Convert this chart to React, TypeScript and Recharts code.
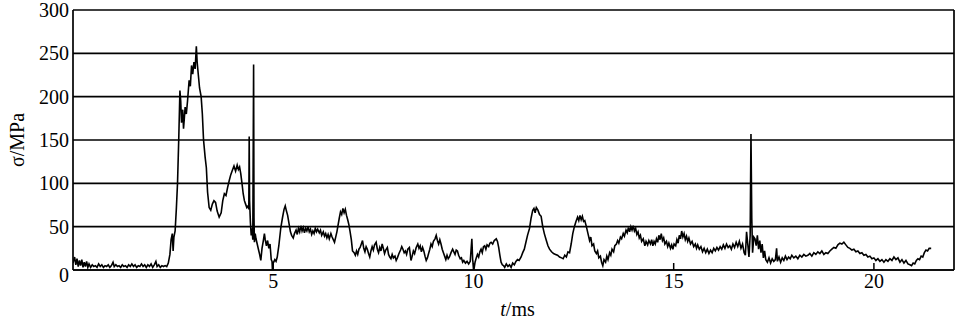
import { LineChart, Line, XAxis, YAxis, CartesianGrid, ReferenceLine, Label } from 'recharts';

// Stress trace sigma (MPa) vs time t (ms) as [t, sigma] pairs

const BASELINE: [number, number][] = [
  [0.0, 8], [0.04, 15], [0.07, 6], [0.1, 13], [0.13, 4], [0.16, 11], [0.19, 5], [0.22, 12],
  [0.25, 3], [0.28, 9], [0.31, 4], [0.34, 10], [0.37, 3], [0.4, 7], [0.44, 3], [0.48, 6],
  [0.52, 4], [0.56, 5], [0.6, 3], [0.64, 7], [0.68, 4], [0.72, 6], [0.76, 3], [0.8, 5],
  [0.84, 4], [0.88, 6], [0.92, 3], [0.96, 5], [1.0, 9], [1.03, 4], [1.07, 6], [1.11, 4],
  [1.15, 5], [1.19, 3], [1.23, 6], [1.27, 4], [1.31, 5], [1.35, 3], [1.39, 6], [1.43, 4],
  [1.47, 7], [1.51, 4], [1.55, 6], [1.59, 3], [1.63, 5], [1.67, 4], [1.71, 7], [1.75, 4],
  [1.79, 6], [1.83, 3], [1.87, 6], [1.91, 4], [1.95, 7], [1.99, 3], [2.03, 6], [2.07, 10],
  [2.1, 4], [2.14, 6], [2.18, 3], [2.22, 5], [2.26, 4], [2.3, 5], [2.34, 4],
];

const MAIN_PULSE: [number, number][] = [
  [2.38, 8], [2.42, 18], [2.45, 35], [2.48, 42], [2.5, 22], [2.52, 38], [2.55, 45], [2.58, 70],
  [2.61, 100], [2.64, 150], [2.67, 207], [2.69, 195], [2.71, 170], [2.74, 185], [2.76, 163],
  [2.78, 175], [2.8, 188], [2.83, 180], [2.86, 195], [2.9, 219], [2.93, 212], [2.96, 236],
  [2.99, 226], [3.02, 240], [3.05, 232], [3.08, 258], [3.1, 240], [3.13, 225], [3.16, 210],
  [3.2, 200], [3.23, 180], [3.26, 150], [3.3, 130], [3.33, 118], [3.36, 90], [3.4, 72],
  [3.44, 69], [3.48, 76], [3.52, 80], [3.56, 78], [3.6, 68], [3.65, 61], [3.7, 66], [3.74, 80],
  [3.78, 88], [3.82, 86], [3.86, 95], [3.9, 103], [3.94, 110], [3.98, 115], [4.02, 120],
  [4.06, 114], [4.1, 121], [4.13, 116], [4.16, 119], [4.19, 111], [4.22, 100], [4.25, 88],
  [4.28, 80], [4.31, 76], [4.34, 72], [4.37, 74], [4.39, 70], [4.4, 154], [4.41, 80],
  [4.43, 55], [4.45, 40], [4.47, 48], [4.49, 35], [4.51, 237], [4.52, 60], [4.53, 32],
  [4.55, 42], [4.57, 36], [4.6, 30], [4.63, 24], [4.66, 18], [4.69, 11], [4.72, 25], [4.75, 33],
  [4.78, 42], [4.8, 35], [4.83, 28], [4.86, 34], [4.89, 25], [4.92, 30], [4.95, 12], [4.97, 10],
  [4.98, 0], [5.0, 8], [5.04, 12],
];

const MID_SECTION: [number, number][] = [
  [5.07, 10], [5.1, 15], [5.14, 28], [5.19, 49], [5.23, 60], [5.27, 70], [5.3, 74], [5.33, 68],
  [5.36, 63], [5.4, 52], [5.43, 44], [5.46, 40], [5.5, 37], [5.53, 42], [5.57, 46], [5.6, 41],
  [5.63, 48], [5.66, 44], [5.69, 51], [5.72, 45], [5.75, 49], [5.78, 43], [5.81, 48], [5.84, 45],
  [5.87, 50], [5.9, 44], [5.93, 47], [5.96, 41], [5.99, 45], [6.02, 42], [6.05, 48], [6.08, 44],
  [6.11, 47], [6.15, 43], [6.18, 46], [6.21, 40], [6.25, 44], [6.28, 39], [6.31, 42], [6.34, 37],
  [6.37, 41], [6.4, 36], [6.44, 42], [6.47, 38], [6.5, 35], [6.53, 32], [6.56, 38], [6.59, 44],
  [6.62, 52], [6.65, 60], [6.68, 67], [6.71, 64], [6.74, 71], [6.77, 66], [6.8, 70], [6.83, 63],
  [6.86, 58], [6.89, 52], [6.92, 44], [6.95, 35], [6.98, 22], [7.02, 20], [7.05, 17], [7.08, 22],
  [7.11, 18], [7.14, 24], [7.17, 26], [7.2, 30], [7.23, 34], [7.26, 25], [7.29, 21], [7.32, 27],
  [7.35, 24], [7.38, 19], [7.41, 15], [7.44, 22], [7.47, 27], [7.5, 23], [7.53, 29], [7.57, 32],
  [7.6, 24], [7.63, 20], [7.66, 26], [7.69, 22], [7.72, 30], [7.75, 25], [7.78, 19], [7.81, 23],
  [7.85, 26], [7.88, 18], [7.91, 15], [7.94, 13], [7.97, 18], [8.0, 14], [8.04, 16], [8.07, 11],
];

const LOW_SECTION: [number, number][] = [
  [8.1, 14], [8.14, 19], [8.18, 23], [8.21, 27], [8.24, 24], [8.27, 20], [8.3, 22], [8.33, 18],
  [8.36, 24], [8.4, 26], [8.44, 11], [8.47, 16], [8.5, 22], [8.53, 19], [8.57, 26], [8.61, 30],
  [8.64, 25], [8.67, 28], [8.7, 21], [8.73, 26], [8.76, 22], [8.79, 16], [8.82, 11], [8.85, 14],
  [8.88, 19], [8.91, 24], [8.94, 30], [8.97, 27], [9.0, 33], [9.04, 36], [9.07, 40], [9.1, 34],
  [9.13, 30], [9.16, 35], [9.19, 30], [9.22, 24], [9.25, 20], [9.28, 16], [9.31, 12], [9.34, 17],
  [9.37, 13], [9.4, 15], [9.44, 20], [9.48, 24], [9.51, 21], [9.54, 18], [9.57, 23], [9.6, 22],
  [9.63, 17], [9.67, 13], [9.7, 14], [9.73, 9], [9.76, 11], [9.8, 8], [9.84, 10], [9.88, 7],
  [9.92, 10], [9.96, 36], [9.98, 12], [10.01, 0], [10.04, 9], [10.07, 14], [10.1, 18], [10.13, 15],
  [10.16, 21], [10.19, 24], [10.22, 20], [10.25, 27], [10.28, 28], [10.31, 24], [10.34, 29],
  [10.38, 27], [10.41, 31], [10.44, 32], [10.48, 30], [10.52, 34], [10.57, 36], [10.6, 33],
  [10.63, 26], [10.66, 17], [10.69, 9], [10.72, 6], [10.75, 5], [10.78, 3], [10.82, 7], [10.86, 4],
  [10.9, 6], [10.94, 3], [10.98, 8], [11.02, 6], [11.06, 10], [11.1, 12], [11.14, 11], [11.19, 15],
];

const HUMPS: [number, number][] = [
  [11.23, 20], [11.27, 24], [11.31, 32], [11.35, 40], [11.4, 48], [11.44, 60], [11.48, 69],
  [11.51, 71], [11.54, 66], [11.57, 72], [11.61, 69], [11.65, 64], [11.69, 62], [11.73, 50],
  [11.77, 42], [11.82, 34], [11.86, 28], [11.9, 24], [11.95, 21], [12.0, 19], [12.05, 18],
  [12.1, 17], [12.15, 15], [12.2, 14], [12.24, 13], [12.28, 17], [12.32, 15], [12.36, 21],
  [12.4, 20], [12.44, 30], [12.48, 42], [12.52, 50], [12.56, 56], [12.6, 61], [12.63, 57],
  [12.66, 63], [12.69, 58], [12.72, 62], [12.75, 56], [12.78, 57], [12.82, 50], [12.86, 42],
  [12.9, 34], [12.93, 38], [12.96, 28], [13.0, 30], [13.03, 22], [13.07, 19], [13.1, 22],
  [13.13, 14], [13.17, 16], [13.2, 9], [13.23, 5], [13.26, 12], [13.3, 9], [13.33, 16],
  [13.36, 12], [13.4, 20], [13.43, 17], [13.46, 24], [13.5, 21], [13.53, 28], [13.57, 30],
  [13.6, 34], [13.63, 31], [13.67, 38], [13.7, 36], [13.74, 42], [13.77, 39], [13.81, 46],
  [13.84, 43], [13.87, 49], [13.9, 44], [13.93, 50], [13.96, 46], [13.99, 51], [14.02, 45],
  [14.05, 48], [14.08, 41], [14.11, 44], [14.14, 37], [14.17, 40], [14.2, 33], [14.24, 36],
  [14.28, 28], [14.31, 33], [14.35, 29], [14.38, 34],
];

const SECOND_SPIKE: [number, number][] = [
  [14.42, 30], [14.45, 35], [14.48, 28], [14.51, 33], [14.54, 30], [14.57, 36], [14.6, 32],
  [14.63, 40], [14.66, 35], [14.69, 42], [14.72, 34], [14.75, 37], [14.78, 30], [14.82, 33],
  [14.85, 27], [14.88, 31], [14.92, 25], [14.95, 29], [14.98, 24], [15.01, 30], [15.05, 28],
  [15.08, 35], [15.11, 31], [15.14, 40], [15.17, 36], [15.2, 45], [15.23, 38], [15.26, 42],
  [15.29, 35], [15.32, 39], [15.35, 33], [15.38, 37], [15.42, 30], [15.46, 33], [15.5, 27],
  [15.54, 30], [15.57, 25], [15.6, 29], [15.64, 24], [15.68, 27], [15.72, 21], [15.76, 25],
  [15.8, 20], [15.84, 24], [15.88, 19], [15.92, 23], [15.96, 20], [16.0, 25], [16.04, 22],
  [16.08, 26], [16.12, 23], [16.16, 27], [16.2, 24], [16.24, 29], [16.28, 25], [16.32, 30],
  [16.36, 26], [16.4, 28], [16.44, 24], [16.48, 30], [16.52, 26], [16.56, 32], [16.6, 27],
  [16.64, 33], [16.68, 25], [16.72, 30], [16.76, 20], [16.79, 17], [16.82, 44], [16.85, 30],
  [16.88, 15], [16.91, 40], [16.93, 157], [16.95, 60], [16.97, 20], [17.0, 38], [17.03, 36],
  [17.06, 28], [17.09, 40], [17.12, 24], [17.15, 34], [17.18, 20], [17.21, 30], [17.24, 14],
  [17.27, 22], [17.3, 12],
];

const DECAY: [number, number][] = [
  [17.34, 9], [17.38, 14], [17.42, 8], [17.46, 13], [17.5, 10], [17.54, 12], [17.57, 25],
  [17.59, 10], [17.63, 15], [17.67, 9], [17.71, 14], [17.75, 11], [17.79, 16], [17.83, 12],
  [17.87, 15], [17.91, 13], [17.95, 17], [18.0, 14], [18.05, 16], [18.1, 13], [18.15, 17],
  [18.2, 15], [18.25, 18], [18.3, 16], [18.35, 17], [18.4, 19], [18.45, 16], [18.5, 20],
  [18.55, 18], [18.6, 21], [18.65, 19], [18.7, 22], [18.75, 18], [18.8, 20], [18.85, 19],
  [18.9, 22], [18.95, 24], [19.0, 26], [19.05, 25], [19.1, 29], [19.15, 31], [19.2, 30],
  [19.25, 32], [19.3, 29], [19.35, 26], [19.4, 25], [19.45, 23], [19.5, 24], [19.55, 21],
  [19.6, 22], [19.65, 19], [19.7, 20], [19.75, 17], [19.8, 18], [19.85, 15], [19.9, 16],
  [19.95, 13], [20.0, 14], [20.05, 11], [20.1, 13], [20.15, 10], [20.2, 12], [20.25, 9],
  [20.3, 12], [20.35, 10], [20.4, 13], [20.45, 11], [20.5, 15], [20.55, 12], [20.6, 14],
  [20.65, 9], [20.7, 12], [20.75, 8], [20.8, 11], [20.85, 7], [20.9, 6], [20.94, 5], [20.98, 8],
  [21.02, 7], [21.06, 11], [21.1, 13], [21.14, 12], [21.18, 16], [21.22, 15], [21.26, 20],
  [21.3, 23], [21.34, 22], [21.38, 25], [21.43, 25],
];

const X_TICKS = [5, 10, 15, 20];
const Y_TICKS = [0, 50, 100, 150, 200, 250, 300];

const FONT = '"Liberation Serif", "DejaVu Serif", serif';

const data = [
  ...BASELINE,
  ...MAIN_PULSE,
  ...MID_SECTION,
  ...LOW_SECTION,
  ...HUMPS,
  ...SECOND_SPIKE,
  ...DECAY,
].map(([t, s]) => ({ t, s }));

// x tick: short mark pointing up into the plot, number below the axis
function TimeTick({ x, y, payload }: any) {
  return (
    <g>
      <line x1={x} x2={x} y1={y - 7} y2={y} stroke="#000" strokeWidth={1.5} />
      <text x={x} y={y + 18} textAnchor="middle" fontFamily={FONT} fontSize={20} fill="#000">
        {payload.value}
      </text>
    </g>
  );
}

// y tick: the bottom "0" sits a little lower, as in the original
function StressTick({ x, y, payload }: any) {
  const dy = payload.value === 0 ? 12 : 7;
  return (
    <text x={x} y={y + dy} textAnchor="end" fontFamily={FONT} fontSize={20} fill="#000">
      {payload.value}
    </text>
  );
}

function XTitle({ viewBox }: any) {
  const cx = viewBox.x + viewBox.width / 2 + 4;
  return (
    <text x={cx} y={viewBox.y + 46} textAnchor="middle" fontFamily={FONT} fontSize={20} fill="#000">
      <tspan fontStyle="italic">t</tspan>/ms
    </text>
  );
}

function YTitle({ viewBox }: any) {
  const cx = 17;
  const cy = viewBox.y + viewBox.height / 2;
  return (
    <text
      x={cx}
      y={cy}
      transform={`rotate(-90 ${cx} ${cy})`}
      textAnchor="middle"
      dominantBaseline="central"
      fontFamily={FONT}
      fontSize={20}
      fill="#000"
    >
      σ/MPa
    </text>
  );
}

export default function App() {
  return (
    <div style={{ position: 'absolute', left: 0, top: 0, background: '#fff' }}>
      <LineChart width={956} height={321} data={data} margin={{ top: 10, right: 2, bottom: 0, left: 0 }}>
        <CartesianGrid vertical={false} stroke="#000" strokeWidth={1.7} />
        <XAxis
          dataKey="t"
          type="number"
          domain={[0, 22]}
          ticks={X_TICKS}
          height={51}
          tickSize={0}
          tickMargin={0}
          tickLine={false}
          axisLine={{ stroke: '#000', strokeWidth: 1.7 }}
          tick={<TimeTick />}
          allowDataOverflow
        >
          <Label content={<XTitle />} />
        </XAxis>
        <YAxis
          type="number"
          domain={[0, 300]}
          ticks={Y_TICKS}
          width={73}
          tickSize={0}
          tickMargin={4}
          tickLine={false}
          axisLine={{ stroke: '#000', strokeWidth: 1.7 }}
          tick={<StressTick />}
          allowDataOverflow
        >
          <Label content={<YTitle />} />
        </YAxis>
        <ReferenceLine x={22} stroke="#000" strokeWidth={1.7} />
        <Line
          dataKey="s"
          type="linear"
          stroke="#000"
          strokeWidth={1.6}
          dot={false}
          isAnimationActive={false}
        />
      </LineChart>
    </div>
  );
}
